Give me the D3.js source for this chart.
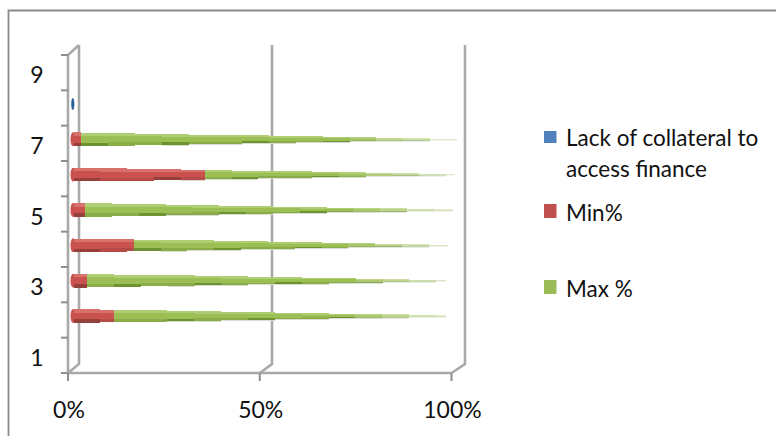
<!DOCTYPE html>
<html>
<head>
<meta charset="utf-8">
<script src="https://cdn.jsdelivr.net/npm/d3@7"></script>
<style>
  html, body { margin: 0; padding: 0; background: #fff; }
  svg { display: block; }
  text { font-family: Lato, "Open Sans", sans-serif; fill: #111; }
</style>
</head>
<body>
<svg id="chart" width="776" height="436"></svg>
<script>
// Survey responses per category, as stacked shares
const categories = [1, 2, 3, 4, 5, 6, 7, 8, 9];
const yTickLabels = [1, 3, 5, 7, 9];
const xTickValues = [0, 0.5, 1];
const lackOfCollateral = [0, 0, 0, 0, 0, 0, 0, 0.004, 0];
const minPct = [0, 0.105, 0.036, 0.157, 0.03, 0.342, 0.02, 0, 0];
const maxPct = [0, 0.866, 0.936, 0.819, 0.96, 0.653, 0.98, 0, 0];
const legendLines = [["Lack of collateral to", "access finance"], ["Min%"], ["Max %"]];

const AXIS = "#a9a9a9", FRAME = "#8a8a8a";
const svg = d3.select("#chart");

// Outer chart frame runs off the bottom and right of the canvas
svg.append("path").attr("d", "M8.5,436V10.5H776")
  .attr("fill", "none").attr("stroke", FRAME).attr("stroke-width", 1.8);

// Front plane and back wall scales
const x = d3.scaleLinear().domain([0, 1]).range([68, 451.5]);
const xBack = d3.scaleLinear().domain([0, 1]).range([79, 465]);
const y = d3.scaleBand().domain(categories).range([373, 55]);
const backTop = 45, backBottom = 364;
const barDx = 5.5, barDy = -4;

const frame = svg.append("g").attr("fill", "none").attr("stroke", AXIS).attr("stroke-width", 2.6);

// Back wall gridlines at each percent tick, with the floor diagonal
xTickValues.forEach(v => {
  frame.append("path").attr("d",
    `M${xBack(v)},${backTop}V${backBottom}L${x(v)},373`);
});
// Left wall edge, top diagonal and floor front edge
frame.append("path").attr("d", `M${xBack(0)},${backTop}L${x(0)},55V373H${x(1)}`);

// Category-boundary ticks on the value side wall
const yBoundaries = categories.map(c => y(c)).concat(373);
frame.selectAll("line.yt").data(yBoundaries).join("line").attr("class", "yt")
  .attr("stroke-width", 2).attr("stroke", "#8f8f8f")
  .attr("x1", 61).attr("x2", x(0)).attr("y1", d => d).attr("y2", d => d);
frame.selectAll("line.xt").data(xTickValues).join("line").attr("class", "xt")
  .attr("stroke-width", 2).attr("stroke", "#8f8f8f")
  .attr("x1", d => x(d)).attr("x2", d => x(d)).attr("y1", 373).attr("y2", 381);

// Axis labels
svg.append("g").selectAll("text").data(yTickLabels).join("text")
  .attr("x", 37).attr("y", d => y(d) + y.bandwidth() / 2 + 10.5)
  .attr("text-anchor", "middle").attr("font-size", 23).text(d => d);
svg.append("g").selectAll("text").data(xTickValues).join("text")
  .attr("x", d => x(d) + 1).attr("y", 418)
  .attr("text-anchor", "middle").attr("font-size", 23).text(d3.format(".0%"));

// Tapered stacked cones: the shape narrows linearly toward 100% and is
// rendered as stepped slices with a light top, mid body and dark underside.
const barX = v => x(v) + barDx;
const thick = d3.scaleLinear().domain([0, 1]).range([14, 1]);
const ramps = {
  red: { top: "#d8706c", mid: "#c9524f", low: "#96403c", shade: "#b54a47" },
  green: { top: "#afcd72", mid: "#9bbe55", low: "#6d9230", shade: "#8aad49" }
};
const STEP = 0.07;
const fade = d3.scaleLinear().domain([0.7, 1]).range([1, 0.25]).clamp(true);
const barsG = svg.append("g");

function drawSegment(cy, from, to, ramp, phase) {
  const edges = [];
  for (let v = from; v < to - 1e-6; v += STEP) edges.push([v, Math.min(v + STEP, to)]);
  edges.forEach(([a, b], i) => {
    const mid = (a + b) / 2, t = thick(mid);
    const w = barX(b) - barX(a), left = barX(a);
    const g = barsG.append("g").attr("opacity", fade(mid)).attr("shape-rendering", "crispEdges");
    // Grey ground shadow beneath the later slices
    if (mid > 0.25) {
      g.append("rect").attr("x", left).attr("width", w)
        .attr("y", cy + t / 2).attr("height", 1).attr("fill", "#d9dcd2");
    }
    g.append("rect").attr("x", left).attr("width", w)
      .attr("y", cy - t / 2).attr("height", t * 0.25).attr("fill", ramp.top);
    g.append("rect").attr("x", left).attr("width", w)
      .attr("y", cy - t / 2 + t * 0.25).attr("height", t * 0.5).attr("fill", ramp.mid);
    // Underside shading: one dark run out of every three slices
    g.append("rect").attr("x", left).attr("width", w)
      .attr("y", cy - t / 2 + t * 0.75).attr("height", t * 0.25)
      .attr("fill", (i + phase) % 3 === 0 ? ramp.low : ramp.shade);
  });
}

categories.forEach((c, idx) => {
  const cy = y(c) + y.bandwidth() / 2 + barDy;
  const lo = minPct[idx], hi = maxPct[idx];
  if (lo + hi > 0) {
    // Rounded base of the cone
    barsG.append("ellipse").attr("cx", barX(0) - 0.5).attr("cy", cy)
      .attr("rx", 2.5).attr("ry", thick(0) / 2).attr("fill", ramps.red.mid);
    drawSegment(cy, 0, lo, ramps.red, 0);
    drawSegment(cy, lo, lo + hi, ramps.green, idx % 3);
  }
  if (lackOfCollateral[idx] > 0) {
    barsG.append("ellipse").attr("cx", barX(0) - 0.7).attr("cy", cy)
      .attr("rx", 1.6).attr("ry", 6).attr("fill", "#2f6097");
  }
});

// Legend
const legendColors = ["#4f81bd", "#c0504d", "#9bbb59"];
const swatchTop = [131, 204, 280];
const legendBase = [146, 221, 297];
const legend = svg.append("g");
legendLines.forEach((lines, i) => {
  legend.append("rect").attr("x", 544).attr("y", swatchTop[i])
    .attr("width", 12.5).attr("height", i ? 14 : 12).attr("fill", legendColors[i]);
  lines.forEach((ln, j) => {
    legend.append("text").attr("x", 566).attr("y", legendBase[i] + j * 30.5)
      .attr("font-size", 22.5).text(ln);
  });
});
</script>
</body>
</html>
